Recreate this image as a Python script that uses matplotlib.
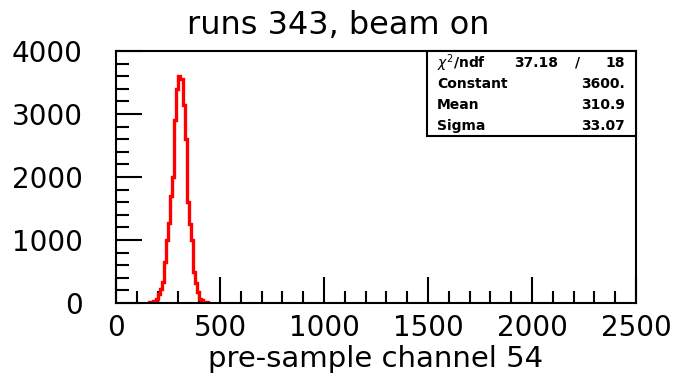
import numpy as np
import matplotlib
matplotlib.use("Agg")
import matplotlib.pyplot as plt
from matplotlib.ticker import MultipleLocator

title = "runs 343, beam on"
xlabel = "pre-sample channel 54"
bin_centers = [165, 175, 185, 195, 205, 215, 225, 235, 245, 255, 265, 275, 285, 295,
               305, 315, 325, 335, 345, 355, 365, 375, 385, 395, 405, 415, 425, 435]
counts = [10, 20, 30, 60, 150, 230, 330, 650, 1000, 1270, 1700, 2000, 2900, 3400,
          3600, 3550, 3150, 2600, 1600, 1250, 1000, 500, 320, 170, 60, 40, 20, 10]
bin_width = 10
stat_labels = ["Constant", "Mean", "Sigma"]
stat_values = ["3600.", "310.9", "33.07"]
chi2 = "37.18"
ndf = "18"
x_ticks = [0, 500, 1000, 1500, 2000, 2500]
y_ticks = [0, 1000, 2000, 3000, 4000]

fig = plt.figure(figsize=(6.76, 3.79), dpi=100)
ax = fig.add_axes([116/676, 1-303/379, 520/676, 252/379])

edges = np.array(bin_centers + [bin_centers[-1] + bin_width]) - bin_width / 2
ax.hist(bin_centers, bins=edges, weights=counts, histtype="step", color="#ff0000", lw=2.4)

ax.set_xlim(0, 2500)
ax.set_ylim(0, 4000)
ax.set_xticks(x_ticks)
ax.set_yticks(y_ticks)
ax.xaxis.set_minor_locator(MultipleLocator(100))
ax.yaxis.set_minor_locator(MultipleLocator(200))
ax.tick_params(which="both", direction="in", top=False, right=False, width=1.5, color="black")
ax.tick_params(which="major", length=19)
ax.tick_params(which="minor", length=9)
ax.tick_params(axis="x", which="major", pad=8, labelsize=20)
ax.tick_params(axis="y", which="major", pad=24, labelsize=20)
for s in ax.spines.values():
    s.set_linewidth(1.5)

fig.text(338/676, 1-25/379, title, ha="center", va="center", fontsize=23)
fig.text(376/676, 1-367/379, xlabel, ha="center", va="baseline", fontsize=21)

# stats box
bx0, by0, bx1, by1 = 427, 51, 636, 136
fig.patches.append(plt.Rectangle((bx0/676, 1-by1/379), (bx1-bx0)/676, (by1-by0)/379,
                                 transform=fig.transFigure, fill=True, facecolor="white",
                                 edgecolor="black", lw=1.5, zorder=5))
rows_y = [63, 84, 105, 126]
fs = 10
fig.text(437/676, 1-rows_y[0]/379, r"$\chi^2$/ndf", ha="left", va="center", fontsize=fs, fontweight="bold", zorder=6)
fig.text(558/676, 1-rows_y[0]/379, chi2, ha="right", va="center", fontsize=fs, fontweight="bold", zorder=6)
fig.text(578/676, 1-rows_y[0]/379, "/", ha="center", va="center", fontsize=fs, fontweight="bold", zorder=6)
fig.text(625/676, 1-rows_y[0]/379, ndf, ha="right", va="center", fontsize=fs, fontweight="bold", zorder=6)
for lab, val, yy in zip(stat_labels, stat_values, rows_y[1:]):
    fig.text(437/676, 1-yy/379, lab, ha="left", va="center", fontsize=fs, fontweight="bold", zorder=6)
    fig.text(625/676, 1-yy/379, val, ha="right", va="center", fontsize=fs, fontweight="bold", zorder=6)

fig.savefig("out.png", dpi=100)
